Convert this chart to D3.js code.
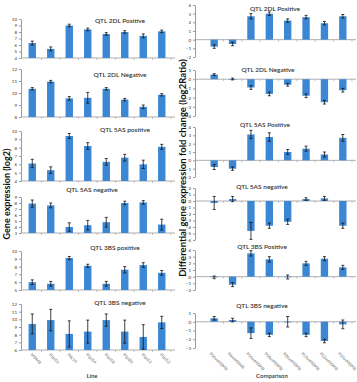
<!DOCTYPE html>
<meta charset="utf-8">
<script src="https://d3js.org/d3.v7.min.js"></script>
<style>
  body { margin: 0; background: #fff; }
  text { font-family: Lato, "Open Sans", sans-serif; }
</style>
<div id="chart"></div>
<script>
// line names (left) and comparisons (right)
var lines = ["MDMB", "P1pl16", "P6L14", "P1pl14", "P1pl18", "P1pl26", "P1pl15", "P1pl12"];
var comparisons = ["P16vsMDMB", "P6vsMDMB", "P14vsMDMB", "P18vsMDMB", "P26vsMDMB", "P15vsMDMB", "P12vsMDMB", "P10vsMDMB"];

// gene expression (log2), left column
var pos2DL = [6.3, 5.4, 9.0, 8.4, 7.7, 8.0, 7.4, 8.1];
var pos2DLErr = [0.3, 0.3, 0.2, 0.2, 0.2, 0.2, 0.3, 0.2];
var neg2DL = [10.35, 10.95, 9.55, 9.6, 10.35, 9.45, 8.85, 9.85];
var neg2DLErr = [0.1, 0.1, 0.15, 0.45, 0.1, 0.1, 0.15, 0.1];
var pos5AS = [6.1, 5.3, 9.4, 8.2, 6.3, 6.8, 6.0, 8.1];
var pos5ASErr = [0.5, 0.4, 0.3, 0.4, 0.4, 0.4, 0.5, 0.3];
var neg5AS = [7.9, 7.6, 4.0, 4.3, 4.8, 8.0, 8.1, 4.4];
var neg5ASErr = [0.6, 0.4, 0.7, 0.8, 0.8, 0.3, 0.3, 0.9];
var pos3BS = [6.0, 5.8, 9.1, 8.1, 5.8, 7.6, 8.2, 7.2];
var pos3BSErr = [0.3, 0.3, 0.2, 0.2, 0.3, 0.4, 0.3, 0.3];
var neg3BS = [9.4, 9.9, 8.1, 8.4, 9.9, 8.4, 7.7, 9.6];
var neg3BSErr = [1.3, 1.4, 1.7, 1.5, 0.8, 1.5, 1.6, 0.8];

// differential expression (log2 ratio), right column
var dPos2DL = [-0.8, -0.5, 2.7, 3.0, 2.2, 2.6, 1.9, 2.7];
var dPos2DLErr = [0.2, 0.2, 0.3, 0.2, 0.2, 0.2, 0.2, 0.2];
var dNeg2DL = [0.5, 0.02, -0.9, -1.6, -0.6, -1.8, -2.5, -1.2];
var dNeg2DLErr = [0.1, 0.1, 0.2, 0.2, 0.15, 0.2, 0.2, 0.2];
var dPos5AS = [-0.8, -1.0, 3.1, 2.8, 1.0, 1.4, 0.7, 2.7];
var dPos5ASErr = [0.3, 0.2, 0.5, 0.5, 0.3, 0.3, 0.3, 0.4];
var dNeg5AS = [-0.3, 0.3, -4.6, -3.8, -3.2, 0.3, 0.4, -3.8];
var dNeg5ASErr = [1.0, 0.4, 1.3, 0.4, 0.4, 0.2, 0.3, 0.4];
var dPos3BS = [-0.1, -1.2, 3.5, 2.6, -0.05, 2.0, 2.7, 1.4];
var dPos3BSErr = [0.2, 0.3, 0.4, 0.4, 0.3, 0.3, 0.3, 0.3];
var dNeg3BS = [0.4, 0.2, -1.3, -1.5, 0.0, -1.5, -2.2, -0.3];
var dNeg3BSErr = [0.2, 0.2, 0.6, 0.2, 0.6, 0.2, 0.2, 0.5];

var barColor = "#3b87d3";

var svg = d3.select("#chart").append("svg")
  .attr("width", 357).attr("height", 382);

// panel layout
var panels = [
  {t: "QTL 2DL Positive", v: pos2DL, e: pos2DLErr, dom: [4, 10], y0: 19, y1: 58, tx: 120, ty: 23, side: "L"},
  {t: "QTL 2DL Negative", v: neg2DL, e: neg2DLErr, dom: [8, 12], y0: 69, y1: 117, tx: 120, ty: 77, side: "L"},
  {t: "QTL 5AS positive", v: pos5AS, e: pos5ASErr, dom: [4, 10], y0: 131, y1: 181, tx: 125, ty: 132, side: "L"},
  {t: "QTL 5AS negative", v: neg5AS, e: neg5ASErr, dom: [3, 9], y0: 197, y1: 233, tx: 92, ty: 192, side: "L"},
  {t: "QTL 3BS positive", v: pos3BS, e: pos3BSErr, dom: [5, 10], y0: 251, y1: 290, tx: 115, ty: 250, side: "L"},
  {t: "QTL 3BS negative", v: neg3BS, e: neg3BSErr, dom: [6, 12], y0: 304, y1: 350, tx: 120, ty: 305, side: "L"},
  {t: "QTL 2DL Positive", v: dPos2DL, e: dPos2DLErr, dom: [-2, 4], y0: 5, y1: 57, tx: 275, ty: 11, side: "R"},
  {t: "QTL 2DL Negative", v: dNeg2DL, e: dNeg2DLErr, dom: [-4, 1], y0: 70, y1: 116, tx: 268, ty: 72, side: "R"},
  {t: "QTL 5AS Positive", v: dPos5AS, e: dPos5ASErr, dom: [-2, 4], y0: 127, y1: 177, tx: 265, ty: 127, side: "R"},
  {t: "QTL 5AS negative", v: dNeg5AS, e: dNeg5ASErr, dom: [-6, 2], y0: 188, y1: 240, tx: 262, ty: 189, side: "R"},
  {t: "QTL 3BS Positive", v: dPos3BS, e: dPos3BSErr, dom: [-2, 4], y0: 250, y1: 290, tx: 262, ty: 249, side: "R"},
  {t: "QTL 3BS negative", v: dNeg3BS, e: dNeg3BSErr, dom: [-3, 1], y0: 313, y1: 348, tx: 262, ty: 308, side: "R"}
];

var xL = d3.scaleBand().domain(lines).range([23, 171]).paddingInner(0.6).paddingOuter(0.3);
var xR = d3.scaleBand().domain(comparisons).range([205, 352]).paddingInner(0.6).paddingOuter(0.3);

panels.forEach(function(p) {
  var x = p.side == "L" ? xL : xR;
  var ax = p.side == "L" ? 21 : 195;
  var axEnd = p.side == "L" ? 175 : 356;
  var y = d3.scaleLinear().domain(p.dom).range([p.y1, p.y0]);
  var base = p.side == "L" ? p.dom[0] : 0;
  var g = svg.append("g");

  // y axis
  var yAxis = g.append("g")
    .attr("transform", "translate(" + ax + ",0)")
    .call(d3.axisLeft(y).ticks(p.dom[1] - p.dom[0]).tickSize(2).tickSizeOuter(0).tickPadding(2));
  yAxis.select(".domain").attr("stroke", "#9a9a9a");
  yAxis.selectAll(".tick line").attr("stroke", "#9a9a9a");
  yAxis.selectAll("text").attr("font-size", 4.5).attr("fill", "#333");

  // category axis
  var xa = g.append("g").attr("transform", "translate(0," + y(base) + ")");
  xa.append("line").attr("x1", ax).attr("x2", axEnd)
    .attr("stroke", "#9a9a9a").attr("stroke-width", 0.8);
  xa.selectAll(".ct").data(x.domain()).enter().append("line")
    .attr("x1", function(d) { return x(d) + x.bandwidth() / 2 + x.step() / 2; })
    .attr("x2", function(d) { return x(d) + x.bandwidth() / 2 + x.step() / 2; })
    .attr("y1", 0).attr("y2", 2)
    .attr("stroke", "#9a9a9a").attr("stroke-width", 0.6);

  // bars
  g.selectAll(".bar").data(p.v).enter().append("rect")
    .attr("x", function(d, i) { return x(x.domain()[i]); })
    .attr("width", x.bandwidth())
    .attr("y", function(d) { return y(Math.max(d, base)); })
    .attr("height", function(d) { return Math.max(0.6, Math.abs(y(d) - y(base))); })
    .attr("fill", barColor);

  // error bars
  var eg = g.selectAll(".err").data(p.v).enter().append("g")
    .attr("transform", function(d, i) { return "translate(" + (x(x.domain()[i]) + x.bandwidth() / 2) + ",0)"; })
    .attr("stroke", "#111").attr("stroke-width", 0.8);
  eg.append("line")
    .attr("y1", function(d, i) { return y(d + p.e[i]); })
    .attr("y2", function(d, i) { return y(d - p.e[i]); });
  eg.append("line").attr("x1", -1.5).attr("x2", 1.5)
    .attr("y1", function(d, i) { return y(d + p.e[i]); })
    .attr("y2", function(d, i) { return y(d + p.e[i]); });
  eg.append("line").attr("x1", -1.5).attr("x2", 1.5)
    .attr("y1", function(d, i) { return y(d - p.e[i]); })
    .attr("y2", function(d, i) { return y(d - p.e[i]); });

  // title
  g.append("text")
    .attr("x", p.tx).attr("y", p.ty)
    .attr("text-anchor", "middle")
    .attr("font-size", 6.5).attr("font-weight", 600).attr("fill", "#333")
    .text(p.t);
});

// rotated category labels
function catLabels(x, dx, yPos, labels) {
  svg.append("g").selectAll("text").data(labels).enter().append("text")
    .attr("transform", function(d) {
      return "translate(" + (x(d) + x.bandwidth() / 2 + dx) + "," + yPos + ") rotate(45)";
    })
    .attr("font-size", 4).attr("fill", "#555")
    .text(function(d) { return d; });
}
catLabels(xL, -2, 355, lines);
catLabels(xR, -5, 354, comparisons);

// axis titles
svg.append("text").attr("x", 92).attr("y", 378).attr("text-anchor", "middle")
  .attr("font-size", 6).attr("font-weight", 600).attr("fill", "#333").text("Line");
svg.append("text").attr("x", 272).attr("y", 378).attr("text-anchor", "middle")
  .attr("font-size", 6).attr("font-weight", 600).attr("fill", "#333").text("Comparison");

svg.append("text")
  .attr("transform", "translate(10,194) rotate(-90)")
  .attr("text-anchor", "middle").attr("font-size", 9).attr("font-weight", 700).attr("fill", "#111")
  .text("Gene expression (log2)");
svg.append("text")
  .attr("transform", "translate(186,168) rotate(-90)")
  .attr("text-anchor", "middle").attr("font-size", 9.5).attr("font-weight", 700).attr("fill", "#111")
  .text("Differential gene expression fold change (log2Ratio)");
</script>
